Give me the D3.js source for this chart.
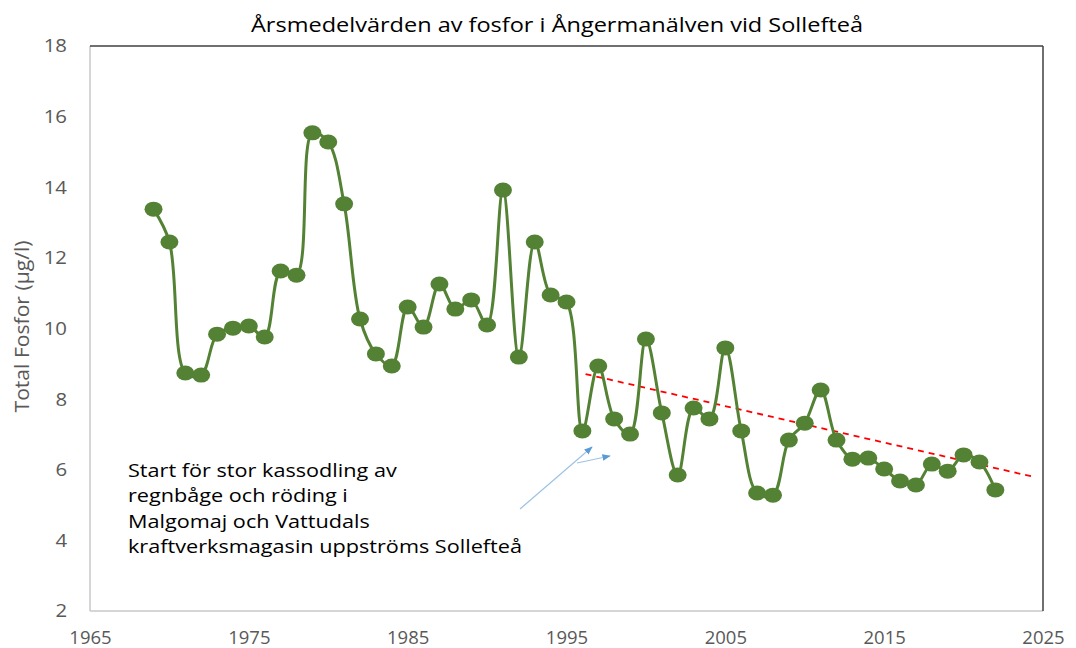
<!DOCTYPE html>
<html>
<head>
<meta charset="utf-8">
<script src="https://cdn.jsdelivr.net/npm/d3@7"></script>
<style>
  body { margin: 0; background: #fff; }
  text { font-family: "Open Sans", "Noto Sans", sans-serif; }
</style>
</head>
<body>
<svg id="chart" width="1076" height="648"></svg>
<script>
// yearly mean phosphorus values
const years = d3.range(1969, 2023);
const fosfor = [
  13.38, 12.45, 8.74, 8.68, 9.84, 10.01, 10.07, 9.76, 11.63, 11.51,
  15.54, 15.28, 13.53, 10.27, 9.28, 8.94, 10.61, 10.04, 11.26, 10.55,
  10.81, 10.10, 13.92, 9.19, 12.45, 10.95, 10.75, 7.10, 8.94, 7.44,
  7.01, 9.70, 7.61, 5.85, 7.75, 7.44, 9.45, 7.10, 5.34, 5.28,
  6.84, 7.32, 8.26, 6.84, 6.30, 6.33, 6.02, 5.68, 5.57, 6.16,
  5.96, 6.42, 6.22, 5.43
];
const trendYears = [1996.2, 2024.4];
const trendValues = [8.71, 5.8];
const xTicks = [1965, 1975, 1985, 1995, 2005, 2015, 2025];
const yTicks = [2, 4, 6, 8, 10, 12, 14, 16, 18];
const noteLines = [
  "Start för stor kassodling av",
  "regnbåge och röding i",
  "Malgomaj och Vattudals",
  "kraftverksmagasin uppströms Sollefteå"
];

const margin = { top: 46, right: 33, bottom: 37, left: 90 };
const width = 1076 - margin.left - margin.right;
const height = 648 - margin.top - margin.bottom;

const svg = d3.select("#chart");
const g = svg.append("g").attr("transform", `translate(${margin.left},${margin.top})`);

const x = d3.scaleLinear().domain([1965, 2025]).range([0, width]);
const y = d3.scaleLinear().domain([2, 18]).range([height, 0]);

// the original fonts are wider than Open Sans here, so stretch text to width
function stretch(sel, factor) {
  sel.each(function () {
    const w = this.getComputedTextLength();
    d3.select(this).attr("textLength", w * factor).attr("lengthAdjust", "spacingAndGlyphs");
  });
}

// title
const title = svg.append("text")
  .attr("x", 557)
  .attr("y", 32)
  .attr("text-anchor", "middle")
  .style("font-size", "20px")
  .style("fill", "#000")
  .text("Årsmedelvärden av fosfor i Ångermanälven vid Sollefteå");
stretch(title, 612 / title.node().getComputedTextLength());

// plot frame: light axes on left/bottom, dark edges top/right
g.append("line").attr("x1", 0).attr("x2", 0).attr("y1", 0).attr("y2", height)
  .attr("stroke", "#c8c8c8").attr("stroke-width", 1.5);
g.append("line").attr("x1", 0).attr("x2", width).attr("y1", height).attr("y2", height)
  .attr("stroke", "#c8c8c8").attr("stroke-width", 1.5);
g.append("line").attr("x1", 0).attr("x2", width).attr("y1", 0).attr("y2", 0)
  .attr("stroke", "#404040").attr("stroke-width", 1.5);
g.append("line").attr("x1", width).attr("x2", width).attr("y1", 0).attr("y2", height)
  .attr("stroke", "#404040").attr("stroke-width", 1.5);

// axes (labels only)
const xAxis = g.append("g")
  .attr("transform", `translate(0,${height})`)
  .call(d3.axisBottom(x).tickValues(xTicks).tickFormat(d3.format("d")).tickSize(0).tickPadding(20));
const yAxis = g.append("g")
  .call(d3.axisLeft(y).tickValues(yTicks).tickSize(0).tickPadding(23));
[xAxis, yAxis].forEach(a => {
  a.select(".domain").remove();
  a.selectAll("text").style("font-size", "18.5px").style("fill", "#595959")
    .style("font-family", "'Open Sans', sans-serif");
});
stretch(yAxis.selectAll("text"), 1.1);

// y axis title
const yTitle = svg.append("text")
  .attr("transform", `translate(29,${margin.top + height / 2 - 2}) rotate(-90)`)
  .attr("text-anchor", "middle")
  .style("font-size", "19.5px")
  .style("fill", "#595959")
  .text("Total Fosfor (µg/l)");
stretch(yTitle, 172 / yTitle.node().getComputedTextLength());

// trend line
g.append("line")
  .attr("x1", x(trendYears[0])).attr("y1", y(trendValues[0]))
  .attr("x2", x(trendYears[1])).attr("y2", y(trendValues[1]))
  .attr("stroke", "#ff0000")
  .attr("stroke-width", 1.8)
  .attr("stroke-dasharray", "6,5");

// smoothed data line
const line = d3.line()
  .x((d, i) => x(years[i]))
  .y(d => y(d))
  .curve(d3.curveCatmullRom.alpha(0.5));

g.append("path")
  .datum(fosfor)
  .attr("fill", "none")
  .attr("stroke", "#548235")
  .attr("stroke-width", 3)
  .attr("d", line);

g.selectAll("ellipse")
  .data(fosfor)
  .enter()
  .append("ellipse")
  .attr("cx", (d, i) => x(years[i]))
  .attr("cy", d => y(d))
  .attr("rx", 9)
  .attr("ry", 7.5)
  .attr("fill", "#548235");

// annotation text, one text element per line
const note = svg.selectAll("text.note")
  .data(noteLines)
  .enter()
  .append("text")
  .attr("class", "note")
  .attr("x", 128)
  .attr("y", (d, i) => 477 + i * 25.3)
  .style("font-size", "18px")
  .style("fill", "#000")
  .text(d => d);
const lastW = note.filter((d, i) => i === noteLines.length - 1).node().getComputedTextLength();
stretch(note, 394 / lastW);

// arrows
svg.append("defs").append("marker")
  .attr("id", "arrowhead")
  .attr("viewBox", "0 0 10 10")
  .attr("refX", 9).attr("refY", 5)
  .attr("markerWidth", 7).attr("markerHeight", 7)
  .attr("orient", "auto")
  .append("path")
  .attr("d", "M0,1 L10,5 L0,9 Z")
  .attr("fill", "#5b9bd5");

svg.append("line")
  .attr("x1", 520).attr("y1", 509).attr("x2", 592).attr("y2", 447)
  .attr("stroke", "#9dc3e6").attr("stroke-width", 1.2)
  .attr("marker-end", "url(#arrowhead)");
svg.append("line")
  .attr("x1", 577).attr("y1", 463).attr("x2", 610).attr("y2", 456)
  .attr("stroke", "#9dc3e6").attr("stroke-width", 1.2)
  .attr("marker-end", "url(#arrowhead)");
</script>
</body>
</html>
